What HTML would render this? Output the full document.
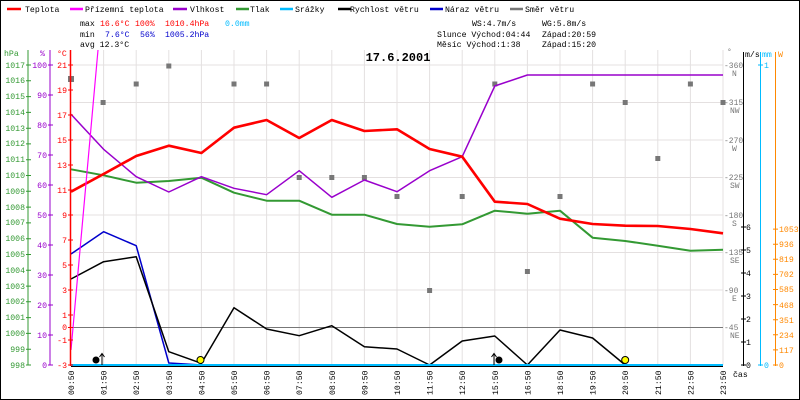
<!DOCTYPE html>
<html><head><meta charset="utf-8"><style>
body{margin:0;background:#fff}
svg{display:block;font-family:"Liberation Mono",monospace;font-size:8.2px}
</style></head><body>
<svg width="800" height="400" xmlns="http://www.w3.org/2000/svg">
<rect x="0.5" y="0.5" width="799" height="399" fill="#fff" stroke="#000"/>
<!-- legend -->
<g stroke-width="2.5">
<line x1="7" y1="9" x2="21" y2="9" stroke="#f00"/>
<line x1="70" y1="9" x2="83" y2="9" stroke="#f0f"/>
<line x1="173" y1="9" x2="187" y2="9" stroke="#90c"/>
<line x1="236" y1="9" x2="249" y2="9" stroke="#393"/>
<line x1="280" y1="9" x2="293" y2="9" stroke="#0bf"/>
<line x1="338" y1="9" x2="351" y2="9" stroke="#000"/>
<line x1="430" y1="9" x2="443" y2="9" stroke="#00c"/>
<line x1="510" y1="9" x2="523" y2="9" stroke="#777"/>
</g>
<g fill="#000">
<text x="25" y="12">Teplota</text><text x="85" y="12">Přízemní teplota</text>
<text x="190" y="12">Vlhkost</text><text x="250" y="12">Tlak</text>
<text x="295" y="12">Srážky</text><text x="350" y="12">Rychlost větru</text>
<text x="445" y="12">Náraz větru</text><text x="525" y="12">Směr větru</text>
</g>
<!-- stats -->
<text x="80" y="26">max</text><text x="100" y="26" fill="#f00">16.6°C</text><text x="135" y="26" fill="#f00">100%</text><text x="165" y="26" fill="#f00">1010.4hPa</text><text x="225" y="26" fill="#0bf">0.0mm</text>
<text x="80" y="37">min</text><text x="105" y="37" fill="#00c">7.6°C</text><text x="140" y="37" fill="#00c">56%</text><text x="165" y="37" fill="#00c">1005.2hPa</text>
<text x="80" y="47">avg 12.3°C</text>
<text x="472" y="26">WS:4.7m/s</text><text x="542" y="26">WG:5.8m/s</text>
<text x="437" y="37">Slunce Východ:04:44</text><text x="542" y="37">Západ:20:59</text>
<text x="437" y="47">Měsíc  Východ:1:38</text><text x="542" y="47">Západ:15:20</text>
<!-- grid -->
<g stroke="#e4e0e0" stroke-width="1">
<line x1="103.6" y1="50" x2="103.6" y2="365"/><line x1="136.2" y1="50" x2="136.2" y2="365"/><line x1="168.8" y1="50" x2="168.8" y2="365"/><line x1="201.4" y1="50" x2="201.4" y2="365"/><line x1="234" y1="50" x2="234" y2="365"/><line x1="266.6" y1="50" x2="266.6" y2="365"/><line x1="299.2" y1="50" x2="299.2" y2="365"/><line x1="331.8" y1="50" x2="331.8" y2="365"/><line x1="364.4" y1="50" x2="364.4" y2="365"/><line x1="397" y1="50" x2="397" y2="365"/><line x1="429.6" y1="50" x2="429.6" y2="365"/><line x1="462.2" y1="50" x2="462.2" y2="365"/><line x1="494.8" y1="50" x2="494.8" y2="365"/><line x1="527.4" y1="50" x2="527.4" y2="365"/><line x1="560" y1="50" x2="560" y2="365"/><line x1="592.6" y1="50" x2="592.6" y2="365"/><line x1="625.2" y1="50" x2="625.2" y2="365"/><line x1="657.8" y1="50" x2="657.8" y2="365"/><line x1="690.4" y1="50" x2="690.4" y2="365"/><line x1="723" y1="50" x2="723" y2="365"/>
<line x1="71" y1="65" x2="723" y2="65"/><line x1="71" y1="102.5" x2="723" y2="102.5"/><line x1="71" y1="140" x2="723" y2="140"/><line x1="71" y1="177.5" x2="723" y2="177.5"/><line x1="71" y1="215" x2="723" y2="215"/><line x1="71" y1="252.5" x2="723" y2="252.5"/><line x1="71" y1="290" x2="723" y2="290"/>
</g>
<line x1="71" y1="327.5" x2="723" y2="327.5" stroke="#777"/>
<text x="398" y="61" text-anchor="middle" font-weight="bold" font-size="12px">17.6.2001</text>
<!-- direction squares -->
<g fill="#777">
<rect x="68" y="76" width="6" height="6"/><rect x="100.6" y="100" width="5" height="5"/><rect x="133.7" y="81.5" width="5" height="5"/><rect x="166.3" y="63.5" width="5" height="5"/><rect x="231.5" y="81.5" width="5" height="5"/><rect x="264.1" y="81.5" width="5" height="5"/><rect x="296.7" y="175" width="5" height="5"/><rect x="329.3" y="175" width="5" height="5"/><rect x="361.9" y="175" width="5" height="5"/><rect x="394.5" y="194" width="5" height="5"/><rect x="427.1" y="288" width="5" height="5"/><rect x="459.7" y="194" width="5" height="5"/><rect x="492.3" y="81.5" width="5" height="5"/><rect x="524.9" y="269" width="5" height="5"/><rect x="557.5" y="194" width="5" height="5"/><rect x="590.1" y="81.5" width="5" height="5"/><rect x="622.7" y="100" width="5" height="5"/><rect x="655.3" y="156" width="5" height="5"/><rect x="687.9" y="81.5" width="5" height="5"/><rect x="720.5" y="100" width="5" height="5"/>
</g>
<!-- series -->
<g fill="none" stroke-linejoin="round">
<polyline stroke="#393" stroke-width="2" points="71,169.3 103.6,175.3 136.2,182.7 168.8,181 201.4,177.7 234,192.7 266.6,200.7 299.2,200.7 331.8,214.7 364.4,214.7 397,224 429.6,226.7 462.2,224.3 494.8,210.7 527.4,213.7 560,210.7 592.6,237.7 625.2,241 657.8,245.7 690.4,250.7 723,249.7"/>
<polyline stroke="#90c" stroke-width="1.5" points="71,114.3 103.6,149.3 136.2,176.7 168.8,192 201.4,176.7 234,188.3 266.6,194.7 299.2,170.7 331.8,197.3 364.4,180 397,191.7 429.6,170.7 462.2,156.7 494.8,86 527.4,75 723,75"/>
<polyline stroke="#f00" stroke-width="2.6" points="71,191.7 103.6,174 136.2,156 168.8,145.7 201.4,153 234,127.7 266.6,120 299.2,138 331.8,120 364.4,131 397,129.3 429.6,149 462.2,156.7 494.8,201.7 527.4,204 560,218.7 592.6,224 625.2,225.7 657.8,226 690.4,229 723,233.3"/>
<polyline stroke="#00c" stroke-width="1.5" points="71,254 103.6,231.7 136.2,245.7 168.8,363 201.4,365"/>
<polyline stroke="#000" stroke-width="1.5" points="71,279 103.6,261.7 136.2,256.7 168.8,351.7 201.4,363.3 234,307.7 266.6,329 299.2,335.7 331.8,325.7 364.4,346.7 397,349 429.6,365 462.2,341 494.8,336 527.4,365 560,330 592.6,338 625.2,365 723,365"/>
<polyline stroke="#f0f" stroke-width="1.2" points="71,350 98,50"/>
</g>
<line x1="71" y1="365" x2="723" y2="365" stroke="#0bf" stroke-width="2"/>
<line x1="71" y1="366.5" x2="723" y2="366.5" stroke="#000" stroke-width="1"/>
<!-- markers -->
<circle cx="96" cy="360" r="3.5" fill="#000"/><line x1="102" y1="365" x2="102" y2="354" stroke="#000"/><path d="M99.5,357 L102,353.5 L104.5,357" fill="none" stroke="#000"/>
<circle cx="200.5" cy="360" r="3.5" fill="#ff0" stroke="#000"/>
<circle cx="499" cy="360" r="3.5" fill="#000"/><line x1="494" y1="365" x2="494" y2="354" stroke="#000"/><path d="M491.5,357 L494,353.5 L496.5,357" fill="none" stroke="#000"/>
<circle cx="625.2" cy="360" r="3.5" fill="#ff0" stroke="#000"/>
<!-- left axes -->
<line x1="28" y1="50" x2="28" y2="365" stroke="#393"/>
<line x1="50" y1="50" x2="50" y2="365" stroke="#90c"/>
<line x1="70.5" y1="50" x2="70.5" y2="366" stroke="#f00" stroke-width="1.5"/>
<path stroke="#393" d="M26,365h5M26,349.2h5M26,333.4h5M26,317.6h5M26,301.8h5M26,286.1h5M26,270.3h5M26,254.5h5M26,238.7h5M26,222.9h5M26,207.1h5M26,191.3h5M26,175.5h5M26,159.7h5M26,143.9h5M26,128.2h5M26,112.4h5M26,96.6h5M26,80.8h5M26,65h5"/>
<path stroke="#90c" d="M48,365h5M48,335h5M48,305h5M48,275h5M48,245h5M48,215h5M48,185h5M48,155h5M48,125h5M48,95h5M48,65h5"/>
<path stroke="#f00" d="M68,65h5M68,90h5M68,115h5M68,140h5M68,165h5M68,190h5M68,215h5M68,240h5M68,265h5M68,290h5M68,315h5M68,327.5h5M68,340h5M68,365h5"/>
<text x="4" y="56" fill="#393">hPa</text><text x="40" y="56" fill="#90c">%</text><text x="57" y="56" fill="#f00">°C</text>
<g fill="#393" text-anchor="end">
<text x="25" y="368">998</text><text x="25" y="352">999</text><text x="25" y="336">1000</text><text x="25" y="320">1001</text><text x="25" y="304">1002</text><text x="25" y="289">1003</text><text x="25" y="273">1004</text><text x="25" y="257">1005</text><text x="25" y="241">1006</text><text x="25" y="225">1007</text><text x="25" y="210">1008</text><text x="25" y="194">1009</text><text x="25" y="178">1010</text><text x="25" y="162">1011</text><text x="25" y="146">1012</text><text x="25" y="131">1013</text><text x="25" y="115">1014</text><text x="25" y="99">1015</text><text x="25" y="83">1016</text><text x="25" y="68">1017</text>
</g>
<g fill="#90c" text-anchor="end">
<text x="47" y="368">0</text><text x="47" y="338">10</text><text x="47" y="308">20</text><text x="47" y="278">30</text><text x="47" y="248">40</text><text x="47" y="218">50</text><text x="47" y="188">60</text><text x="47" y="158">70</text><text x="47" y="128">80</text><text x="47" y="98">90</text><text x="47" y="68">100</text>
</g>
<g fill="#f00" text-anchor="end">
<text x="67" y="68">21</text><text x="67" y="93">19</text><text x="67" y="118">17</text><text x="67" y="143">15</text><text x="67" y="168">13</text><text x="67" y="193">11</text><text x="67" y="218">9</text><text x="67" y="243">7</text><text x="67" y="268">5</text><text x="67" y="293">3</text><text x="67" y="318">1</text><text x="67" y="330">0</text><text x="67" y="343">-1</text><text x="67" y="368">-3</text>
</g>
<!-- right axes -->
<g fill="#777" font-size="8px">
<text x="727" y="54">°</text>
<text x="724" y="68">-360</text><text x="732" y="76">N</text>
<text x="724" y="105">-315</text><text x="730" y="113">NW</text>
<text x="724" y="143">-270</text><text x="732" y="151">W</text>
<text x="724" y="180">-225</text><text x="730" y="188">SW</text>
<text x="724" y="218">-180</text><text x="732" y="226">S</text>
<text x="724" y="255">-135</text><text x="730" y="263">SE</text>
<text x="724" y="293">-90</text><text x="732" y="301">E</text>
<text x="724" y="330">-45</text><text x="730" y="338">NE</text>
</g>
<line x1="743.5" y1="52" x2="743.5" y2="366" stroke="#000"/>
<line x1="760.5" y1="52" x2="760.5" y2="366" stroke="#0bf"/>
<line x1="775.5" y1="52" x2="775.5" y2="366" stroke="#f80"/>
<path stroke="#000" d="M741,365h5M741,342h5M741,319h5M741,296h5M741,273h5M741,250h5M741,227h5"/>
<path stroke="#0bf" d="M758,365h5M758,65h5"/>
<path stroke="#f80" d="M773,365h5M773,349.9h5M773,334.8h5M773,319.7h5M773,304.6h5M773,289.5h5M773,274.4h5M773,259.3h5M773,244.2h5M773,229.1h5"/>
<text x="745" y="57">m/s</text><text x="762" y="57" fill="#0bf">mm</text><text x="778" y="57" fill="#f80">W</text>
<g fill="#000"><text x="746" y="368">0</text><text x="746" y="345">1</text><text x="746" y="322">2</text><text x="746" y="299">3</text><text x="746" y="276">4</text><text x="746" y="253">5</text><text x="746" y="230">6</text></g>
<g fill="#0bf"><text x="764" y="368">0</text><text x="764" y="68">1</text></g>
<g fill="#f80"><text x="779" y="368">0</text><text x="779" y="353">117</text><text x="779" y="338">234</text><text x="779" y="323">351</text><text x="779" y="308">468</text><text x="779" y="292">585</text><text x="779" y="277">702</text><text x="779" y="262">819</text><text x="779" y="247">936</text><text x="779" y="232">1053</text></g>
<!-- x labels -->
<g fill="#000">
<text transform="translate(74,395) rotate(-90)">00:50</text><text transform="translate(106.6,395) rotate(-90)">01:50</text><text transform="translate(139.2,395) rotate(-90)">02:50</text><text transform="translate(171.8,395) rotate(-90)">03:50</text><text transform="translate(204.4,395) rotate(-90)">04:50</text><text transform="translate(237,395) rotate(-90)">05:50</text><text transform="translate(269.6,395) rotate(-90)">06:50</text><text transform="translate(302.2,395) rotate(-90)">07:50</text><text transform="translate(334.8,395) rotate(-90)">08:50</text><text transform="translate(367.4,395) rotate(-90)">09:50</text><text transform="translate(400,395) rotate(-90)">10:50</text><text transform="translate(432.6,395) rotate(-90)">11:50</text><text transform="translate(465.2,395) rotate(-90)">12:50</text><text transform="translate(497.8,395) rotate(-90)">15:50</text><text transform="translate(530.4,395) rotate(-90)">16:50</text><text transform="translate(563,395) rotate(-90)">18:50</text><text transform="translate(595.6,395) rotate(-90)">19:50</text><text transform="translate(628.2,395) rotate(-90)">20:50</text><text transform="translate(660.8,395) rotate(-90)">21:50</text><text transform="translate(693.4,395) rotate(-90)">22:50</text><text transform="translate(726,395) rotate(-90)">23:50</text>
<text x="733" y="377">čas</text>
</g>
</svg>
</body></html>
